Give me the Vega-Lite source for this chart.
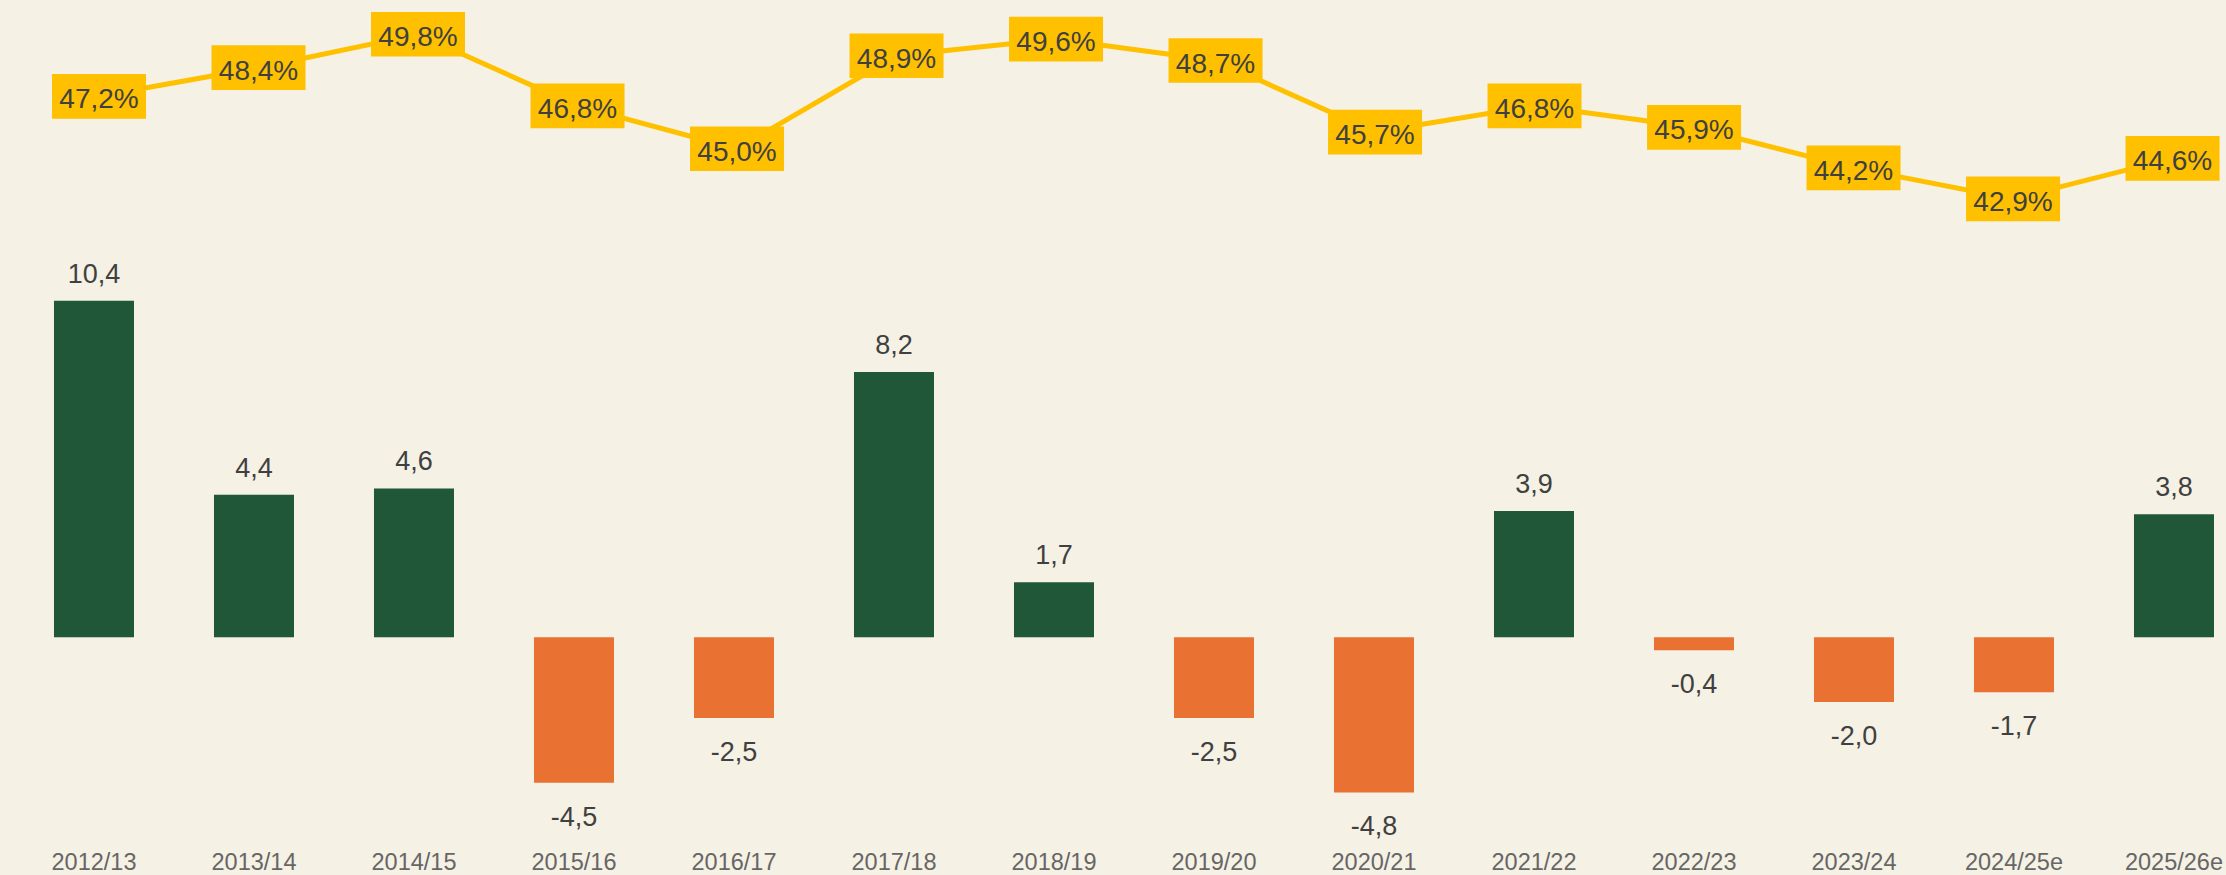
{
  "$schema": "https://vega.github.io/schema/vega-lite/v6.json",
  "width": 2212,
  "height": 830,
  "autosize": {"type": "none"},
  "padding": {"left": 14, "top": 0, "right": 0, "bottom": 45},
  "background": "#F5F1E4",
  "config": {
    "view": {"stroke": null},
    "font": "Liberation Sans",
    "locale": {"number": {"decimal": ",", "thousands": ".", "grouping": [3], "currency": ["", " €"], "minus": "-", "percent": "%"}}
  },
  "data": {"values": [
    {"year": "2012/13", "val": 10.4, "pct": 0.472},
    {"year": "2013/14", "val": 4.4, "pct": 0.484},
    {"year": "2014/15", "val": 4.6, "pct": 0.498},
    {"year": "2015/16", "val": -4.5, "pct": 0.468},
    {"year": "2016/17", "val": -2.5, "pct": 0.450},
    {"year": "2017/18", "val": 8.2, "pct": 0.489},
    {"year": "2018/19", "val": 1.7, "pct": 0.496},
    {"year": "2019/20", "val": -2.5, "pct": 0.487},
    {"year": "2020/21", "val": -4.8, "pct": 0.457},
    {"year": "2021/22", "val": 3.9, "pct": 0.468},
    {"year": "2022/23", "val": -0.4, "pct": 0.459},
    {"year": "2023/24", "val": -2.0, "pct": 0.442},
    {"year": "2024/25e", "val": -1.7, "pct": 0.429},
    {"year": "2025/26e", "val": 3.8, "pct": 0.446}
  ]},
  "layer": [
    {
      "encoding": {
        "x": {
          "field": "year", "type": "ordinal", "sort": null,
          "scale": {"paddingInner": 0.5, "paddingOuter": 0.1625, "align": 0.769, "round": false},
          "axis": {"title": null, "labelAngle": 0, "domain": false, "ticks": false, "labelFontSize": 23.5, "labelColor": "#666666", "labelPadding": 20, "labelFont": "Liberation Sans"}
        },
        "y": {"field": "val", "type": "quantitative", "scale": {"domain": [-5.96, 19.697], "nice": false, "zero": false}, "axis": null}
      },
      "layer": [
        {
          "mark": {"type": "bar"},
          "encoding": {
            "color": {"condition": {"test": "datum.val >= 0", "value": "#1F5738"}, "value": "#E97132"},
            "y2": {"datum": 0}
          }
        },
        {
          "mark": {"type": "rule", "color": "#D9D9D9", "strokeWidth": 2},
          "encoding": {"y": {"datum": 0, "type": "quantitative"}}
        },
        {
          "transform": [{"filter": "datum.val >= 0"}],
          "mark": {"type": "text", "baseline": "alphabetic", "dy": -18, "fontSize": 27, "color": "#404040"},
          "encoding": {"text": {"field": "val", "type": "quantitative", "format": ".1f"}}
        },
        {
          "transform": [{"filter": "datum.val < 0"}],
          "mark": {"type": "text", "baseline": "top", "dy": 22, "fontSize": 27, "color": "#404040"},
          "encoding": {"text": {"field": "val", "type": "quantitative", "format": ".1f"}}
        }
      ]
    },
    {
      "encoding": {
        "x": {
          "field": "year", "type": "ordinal", "sort": null,
          "scale": {"type": "point", "padding": 0.434, "align": 0.614, "round": false},
          "axis": null
        },
        "y": {"field": "pct", "type": "quantitative", "scale": {"domain": [0.16437, 0.51238], "nice": false, "zero": false}, "axis": null}
      },
      "layer": [
        {
          "mark": {"type": "line", "color": "#FFC000", "strokeWidth": 5}
        },
        {
          "mark": {"type": "point", "shape": "M-1,-0.475L1,-0.475L1,0.475L-1,0.475Z", "filled": true, "opacity": 1, "color": "#FFC000", "size": 8836, "strokeWidth": 0}
        },
        {
          "mark": {"type": "text", "baseline": "middle", "dy": 4, "fontSize": 28, "color": "#404040"},
          "encoding": {"text": {"field": "pct", "type": "quantitative", "format": ".1%"}}
        }
      ]
    }
  ],
  "resolve": {"scale": {"y": "independent", "x": "independent"}, "axis": {"x": "independent"}}
}
